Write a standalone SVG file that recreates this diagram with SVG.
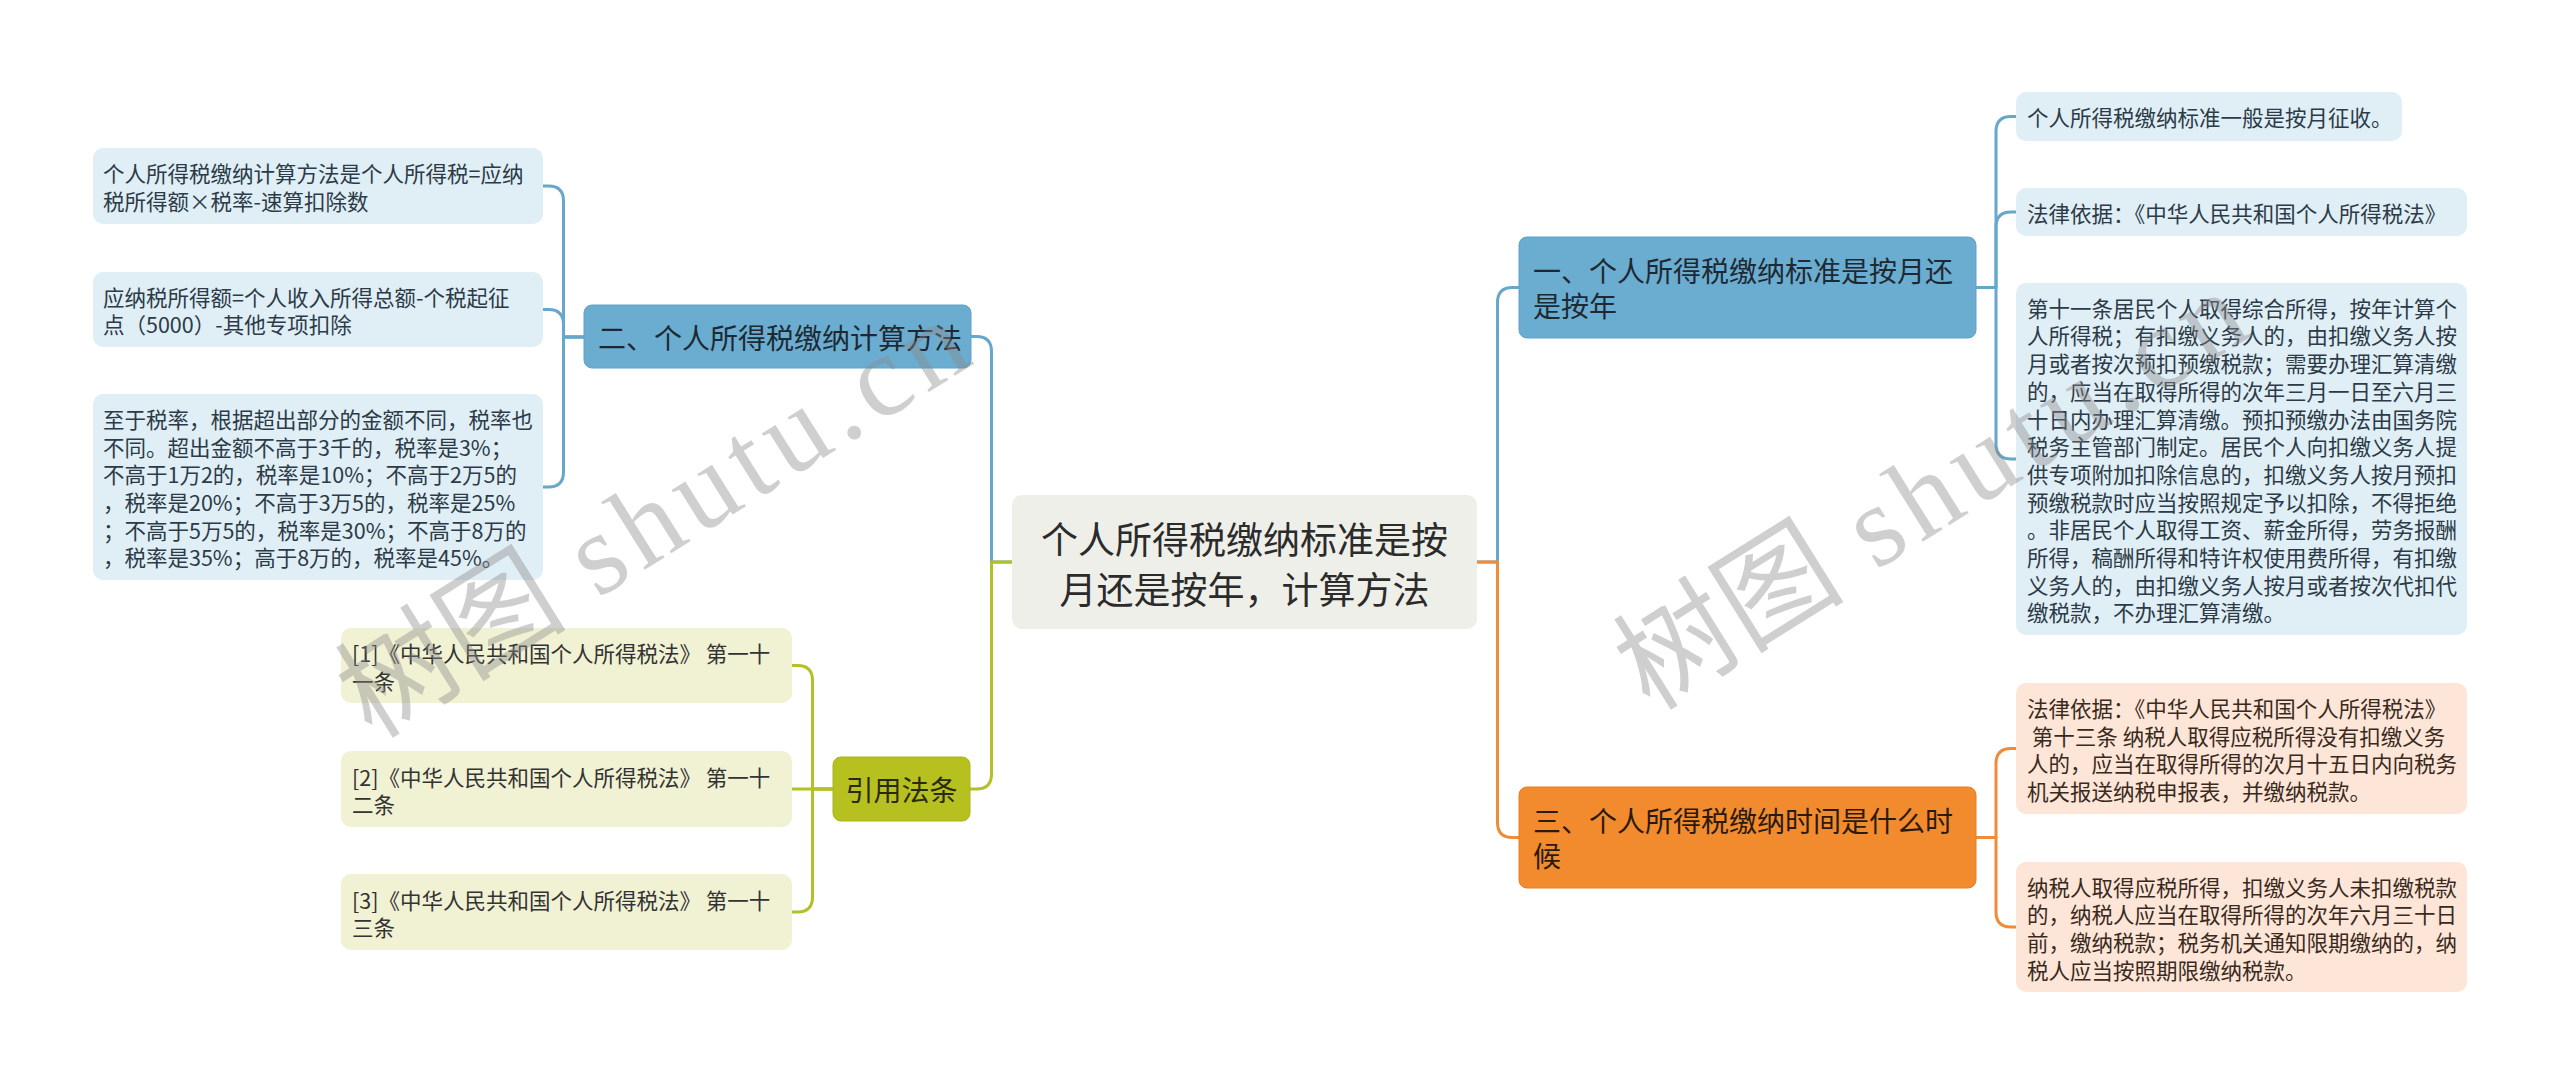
<svg xmlns="http://www.w3.org/2000/svg" width="2560" height="1085" viewBox="0 0 2560 1085">
<style>
text{font-family:"Noto Sans CJK SC","Noto Sans",sans-serif;dominant-baseline:central}
.leaf{font-size:21.5px}
.br{font-size:28px}
.ttl{font-size:37px;fill:#2b2b2b;text-anchor:middle}
.bl{fill:#e0eef6}
.blt{fill:#2c3b47}
.bb{fill:#6badd0;stroke:#5fa2c6;stroke-width:1}
.bbt{fill:#1e2a33}
.ob{fill:#b6c11f;stroke:#a9b41a;stroke-width:1}
.ol{fill:#f1f1d3}
.olt{fill:#333333}
.orb{fill:#f28b2d;stroke:#e57f22;stroke-width:1}
.orl{fill:#fde6d7}
.orlt{fill:#3a2a1e}
.c{fill:none;stroke-width:3;stroke-linecap:round;stroke-linejoin:round}
.cb{stroke:#68a7cc}
.co{stroke:#b4c028}
.cr{stroke:#ef8c3a}
.wm{font-family:"Liberation Serif","Noto Sans CJK SC",serif;font-size:116px;fill:#8a8a8a;opacity:0.4;dominant-baseline:alphabetic}
</style>
<rect width="2560" height="1085" fill="#ffffff"/>
<g id="connectors">
  <path class="c cb" d="M1012,562 H991.5 V351.5 Q991.5,336.5 976.5,336.5 H971"/>
  <path class="c cb" d="M1477,562 H1497.5 V302.5 Q1497.5,287.5 1512.5,287.5 H1519"/>
  <path class="c co" d="M1012,562 H991.5 V774 Q991.5,789 976.5,789 H970"/>
  <path class="c cr" d="M1477,562 H1497.5 V822.5 Q1497.5,837.5 1512.5,837.5 H1519"/>
  <path class="c cb" d="M584,337 H563.5 V201 Q563.5,186 548.5,186 H543"/>
  <path class="c cb" d="M584,337 H563.5 V324.5 Q563.5,309.5 548.5,309.5 H543"/>
  <path class="c cb" d="M584,337 H563.5 V472 Q563.5,487 548.5,487 H543"/>
  <path class="c co" d="M833,789 H812.5 V680.5 Q812.5,665.5 797.5,665.5 H792"/>
  <path class="c co" d="M833,789 H792"/>
  <path class="c co" d="M833,789 H812.5 V897 Q812.5,912 797.5,912 H792"/>
  <path class="c cb" d="M1976,287.5 H1996 V131.5 Q1996,116.5 2011,116.5 H2016"/>
  <path class="c cb" d="M1976,287.5 H1996 V227 Q1996,212 2011,212 H2016"/>
  <path class="c cb" d="M1976,287.5 H1996 V444 Q1996,459 2011,459 H2016"/>
  <path class="c cr" d="M1976,837.5 H1996 V763.5 Q1996,748.5 2011,748.5 H2016"/>
  <path class="c cr" d="M1976,837.5 H1996 V912 Q1996,927 2011,927 H2016"/>
</g>
<g id="center">
  <rect x="1012" y="495" width="465" height="134" rx="10" fill="#efefe9"/>
  <text class="ttl"><tspan x="1244.5" y="538">个人所得税缴纳标准是按</tspan><tspan x="1244.5" y="588">月还是按年，计算方法</tspan></text>
</g>
<g id="branch-2">
  <rect class="bb" x="584" y="305" width="387" height="63" rx="8"/>
  <text class="br bbt" x="598" y="337">二、个人所得税缴纳计算方法</text>
</g>
<g id="leaf-2-1">
  <rect class="bl" x="93" y="148" width="450" height="76" rx="10"/>
  <text class="leaf blt"><tspan x="103" y="172">个人所得税缴纳计算方法是个人所得税=应纳</tspan><tspan x="103" y="200">税所得额×税率-速算扣除数</tspan></text>
</g>
<g id="leaf-2-2">
  <rect class="bl" x="93" y="272" width="450" height="75" rx="10"/>
  <text class="leaf blt"><tspan x="103" y="295.6">应纳税所得额=个人收入所得总额-个税起征</tspan><tspan x="103" y="323.4">点（5000）-其他专项扣除</tspan></text>
</g>
<g id="leaf-2-3">
  <rect class="bl" x="93" y="394" width="450" height="186" rx="10"/>
  <text class="leaf blt"><tspan x="103" y="417.8">至于税率，根据超出部分的金额不同，税率也</tspan><tspan x="103" y="445.5">不同。超出金额不高于3千的，税率是3%；</tspan><tspan x="103" y="473.2">不高于1万2的，税率是10%；不高于2万5的</tspan><tspan x="103" y="500.9">，税率是20%；不高于3万5的，税率是25%</tspan><tspan x="103" y="528.6">；不高于5万5的，税率是30%；不高于8万的</tspan><tspan x="103" y="556.3">，税率是35%；高于8万的，税率是45%。</tspan></text>
</g>
<g id="branch-cite">
  <rect class="ob" x="833" y="757" width="137" height="64" rx="8"/>
  <text class="br" x="901.5" y="789" fill="#2a2a10" text-anchor="middle">引用法条</text>
</g>
<g id="cite-1">
  <rect class="ol" x="341" y="628" width="451" height="75" rx="10"/>
  <text class="leaf olt"><tspan x="352" y="652">[1]《中华人民共和国个人所得税法》 第一十</tspan><tspan x="352" y="679.5">一条</tspan></text>
</g>
<g id="cite-2">
  <rect class="ol" x="341" y="751" width="451" height="76" rx="10"/>
  <text class="leaf olt"><tspan x="352" y="775.5">[2]《中华人民共和国个人所得税法》 第一十</tspan><tspan x="352" y="803">二条</tspan></text>
</g>
<g id="cite-3">
  <rect class="ol" x="341" y="874" width="451" height="76" rx="10"/>
  <text class="leaf olt"><tspan x="352" y="898.5">[3]《中华人民共和国个人所得税法》 第一十</tspan><tspan x="352" y="926">三条</tspan></text>
</g>
<g id="branch-1">
  <rect class="bb" x="1519" y="237" width="457" height="101" rx="8"/>
  <text class="br bbt"><tspan x="1533" y="270">一、个人所得税缴纳标准是按月还</tspan><tspan x="1533" y="305">是按年</tspan></text>
</g>
<g id="leaf-1-1">
  <rect class="bl" x="2016" y="92" width="386" height="49" rx="10"/>
  <text class="leaf blt" x="2027" y="116.5">个人所得税缴纳标准一般是按月征收。</text>
</g>
<g id="leaf-1-2">
  <rect class="bl" x="2016" y="188" width="451" height="48" rx="10"/>
  <text class="leaf blt" x="2027" y="212">法律依据：《中华人民共和国个人所得税法》</text>
</g>
<g id="leaf-1-3">
  <rect class="bl" x="2016" y="283" width="451" height="352" rx="10"/>
  <text class="leaf blt"><tspan x="2027" y="306.7">第十一条居民个人取得综合所得，按年计算个</tspan><tspan x="2027" y="334.4">人所得税；有扣缴义务人的，由扣缴义务人按</tspan><tspan x="2027" y="362.1">月或者按次预扣预缴税款；需要办理汇算清缴</tspan><tspan x="2027" y="389.8">的，应当在取得所得的次年三月一日至六月三</tspan><tspan x="2027" y="417.5">十日内办理汇算清缴。预扣预缴办法由国务院</tspan><tspan x="2027" y="445.2">税务主管部门制定。居民个人向扣缴义务人提</tspan><tspan x="2027" y="472.9">供专项附加扣除信息的，扣缴义务人按月预扣</tspan><tspan x="2027" y="500.6">预缴税款时应当按照规定予以扣除，不得拒绝</tspan><tspan x="2027" y="528.3">。非居民个人取得工资、薪金所得，劳务报酬</tspan><tspan x="2027" y="556">所得，稿酬所得和特许权使用费所得，有扣缴</tspan><tspan x="2027" y="583.7">义务人的，由扣缴义务人按月或者按次代扣代</tspan><tspan x="2027" y="611.4">缴税款，不办理汇算清缴。</tspan></text>
</g>
<g id="branch-3">
  <rect class="orb" x="1519" y="787" width="457" height="101" rx="8"/>
  <text class="br" fill="#2b1a0d"><tspan x="1533" y="820">三、个人所得税缴纳时间是什么时</tspan><tspan x="1533" y="855">候</tspan></text>
</g>
<g id="leaf-3-1">
  <rect class="orl" x="2016" y="683" width="451" height="131" rx="10"/>
  <text class="leaf orlt" style="white-space:pre"><tspan x="2027" y="707">法律依据：《中华人民共和国个人所得税法》</tspan><tspan x="2027" y="734.7"> 第十三条 纳税人取得应税所得没有扣缴义务</tspan><tspan x="2027" y="762.4">人的，应当在取得所得的次月十五日内向税务</tspan><tspan x="2027" y="790.1">机关报送纳税申报表，并缴纳税款。</tspan></text>
</g>
<g id="leaf-3-2">
  <rect class="orl" x="2016" y="862" width="451" height="130" rx="10"/>
  <text class="leaf orlt"><tspan x="2027" y="885.5">纳税人取得应税所得，扣缴义务人未扣缴税款</tspan><tspan x="2027" y="913.2">的，纳税人应当在取得所得的次年六月三十日</tspan><tspan x="2027" y="940.9">前，缴纳税款；税务机关通知限期缴纳的，纳</tspan><tspan x="2027" y="968.6">税人应当按照期限缴纳税款。</tspan></text>
</g>
<g id="watermarks">
  <text class="wm" transform="translate(372,740) rotate(-32)">树图<tspan dx="34" letter-spacing="8">shutu.cn</tspan></text>
  <text class="wm" transform="translate(1650,712) rotate(-32)">树图<tspan dx="34" letter-spacing="8">shutu.cn</tspan></text>
</g>
</svg>
